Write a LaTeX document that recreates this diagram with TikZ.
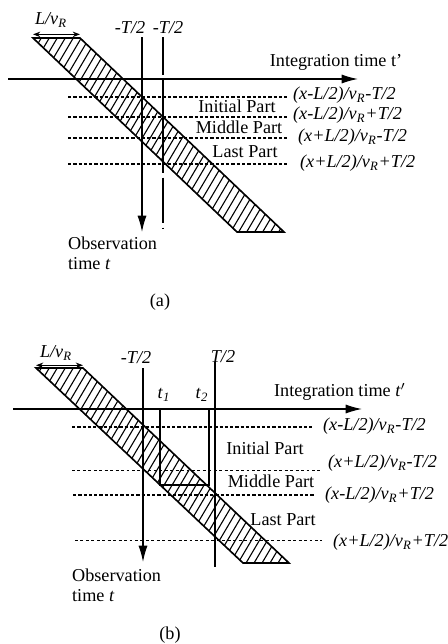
\documentclass[tikz,border=0pt]{standalone}
\usepackage{fontspec}
\setmainfont{Liberation Serif}
\usetikzlibrary{arrows.meta}
\newcommand{\vR}{\textit{v}\textsubscript{\textit{R}}}
\newcommand{\LvR}{\textit{L/v}\textsubscript{\textit{R}}}

\begin{document}
\begin{tikzpicture}[
        x=0.55pt, y=-0.55pt,
        axis/.style={line width=0.7pt, -{Latex[length=9pt,width=5pt]}},
        band/.style={line width=0.9pt},
        hatch/.style={line width=0.6pt},
        level/.style={dash pattern=on 1.8pt off 1.1pt, line width=0.6pt},
        thinlevel/.style={dash pattern=on 1.6pt off 1.4pt, line width=0.4pt},
        span/.style={line width=0.6pt, {Stealth[length=4pt,width=3pt]}-{Stealth[length=4pt,width=3pt]}},
        lbl/.style={font=\fontsize{10}{11}\selectfont, inner sep=1pt},
        expr/.style={lbl, anchor=west, font=\fontsize{10}{11}\selectfont\itshape}
    ]
    \useasboundingbox (0,0) rectangle (448,644);

    % (a)
    \coordinate (a1) at (33,38);
    \coordinate (a2) at (80,38);
    \coordinate (a3) at (284,232);
    \coordinate (a4) at (237,232);
    \begin{scope}
        \clip (a1) -- (a2) -- (a3) -- (a4) -- cycle;
        \foreach \i in {-100,-92,...,290}
            \draw[hatch] (\i,250) -- ++(130,-220);
    \end{scope}
    \draw[band] (a1) -- (a2) -- (a3) -- (a4) -- cycle;
    \draw[span] ([yshift=2pt]a1) -- ([yshift=2pt]a2);
    \node[lbl] (lva) at (51,20) {\LvR};

    \coordinate (ha0) at (8,79);
    \coordinate (ha1) at (358,79);
    \draw[axis] (ha0) -- (ha1);
    \node[lbl] (inta) at (336,62) {Integration time t'};

    \coordinate (va0) at (142,37);
    \coordinate (va1) at (142,232);
    \draw[axis] (va0) -- (va1);
    \coordinate (wa0) at (163,37);
    \coordinate (wa1) at (163,233);
    \draw[line width=0.6pt, dash pattern=on 21pt off 1.6pt on 52pt off 2.7pt on 25pt off 2.5pt on 0.8pt off 10pt] (wa0) -- (wa1);
    \node[lbl] (mta) at (130,28) {\textit{-T/2}};
    \node[lbl] (mtb) at (168,28) {\textit{-T/2}};

    \foreach \y in {97,117,138,164}
        \draw[level] (68,\y) -- (287,\y);
    \node[lbl] (inia) at (237,106) {Initial Part};
    \node[lbl] (mida) at (239,127) {Middle Part};
    \node[lbl] (lasa) at (245,152) {Last Part};

    \node[expr] (ea1) at (291,95) {(x-L/2)/\vR-T/2};
    \node[expr] (ea2) at (291,115) {(x-L/2)/\vR+T/2};
    \node[expr] (ea3) at (296,137) {(x+L/2)/\vR-T/2};
    \node[expr] (ea4) at (298,163) {(x+L/2)/\vR+T/2};

    \node[lbl, anchor=west, align=left] (obsa) at (66,253) {Observation\\time \textit{t}};
    \node[lbl] (capa) at (160,302) {(a)};

    % (b)
    \coordinate (b1) at (36,368);
    \coordinate (b2) at (83,368);
    \coordinate (b3) at (289,563);
    \coordinate (b4) at (243,563);
    \begin{scope}
        \clip (b1) -- (b2) -- (b3) -- (b4) -- cycle;
        \foreach \i in {-100,-92,...,290}
            \draw[hatch] (\i,580) -- ++(130,-220);
    \end{scope}
    \draw[band] (b1) -- (b2) -- (b3) -- (b4) -- cycle;
    \draw[span] ([yshift=1.5pt]b1) -- ([yshift=1.5pt]b2);
    \node[lbl] (lvb) at (56,353) {\LvR};

    \coordinate (hb0) at (13,409);
    \coordinate (hb1) at (362,409);
    \draw[axis] (hb0) -- (hb1);
    \node[lbl] (intb) at (340,392) {Integration time \textit{t}$'$};

    \coordinate (vb0) at (143,368);
    \coordinate (vb1) at (143,562);
    \draw[axis] (vb0) -- (vb1);
    \node[lbl] (mtc) at (136,358) {\textit{-T/2}};
    \coordinate (wb0) at (215,362);
    \coordinate (wb1) at (215,567);
    \draw[line width=0.6pt] (wb0) -- (wb1);
    \node[lbl] (ptc) at (223,357) {\textit{T/2}};

    \coordinate (t1a) at (160,409);
    \coordinate (t1b) at (160,485);
    \coordinate (t2a) at (209,409);
    \coordinate (t2b) at (209,485);
    \draw[line width=0.6pt] (t1a) -- (t1b) -- (t2b) -- (t2a);
    \node[lbl] (tone) at (164,395) {\textit{t}\textsubscript{\textit{1}}};
    \node[lbl] (ttwo) at (202,395) {\textit{t}\textsubscript{\textit{2}}};

    \draw[level] (72,427) -- (312,427);
    \draw[thinlevel] (72,470) -- (320,470);
    \draw[level] (73,495) -- (315,495);
    \draw[thinlevel] (75,540) -- (322,540);
    \node[lbl] (inib) at (265,448) {Initial Part};
    \node[lbl] (midb) at (271,481) {Middle Part};
    \node[lbl] (lasb) at (283,520) {Last Part};

    \node[expr] (eb1) at (321,426) {(x-L/2)/\vR-T/2};
    \node[expr] (eb2) at (326,463) {(x+L/2)/\vR-T/2};
    \node[expr] (eb3) at (323,495) {(x-L/2)/\vR+T/2};
    \node[expr] (eb4) at (331,542) {(x+L/2)/\vR+T/2};

    \node[lbl, anchor=west, align=left] (obsb) at (70,585) {Observation\\time \textit{t}};
    \node[lbl] (capb) at (170,635) {(b)};
\end{tikzpicture}
\end{document}
